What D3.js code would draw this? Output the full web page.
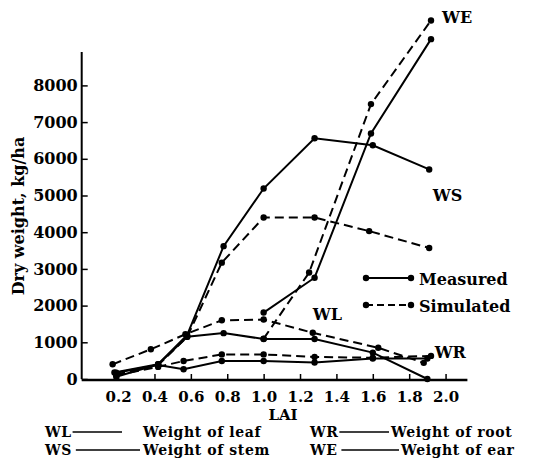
<!DOCTYPE html>
<html>
<head>
<meta charset="utf-8">
<script src="https://cdn.jsdelivr.net/npm/d3@7"></script>
<style>
  html, body { margin: 0; padding: 0; background: #fff; }
  svg { display: block; }
  text { font-family: "DejaVu Serif", "Liberation Serif", serif; font-weight: bold; fill: #000; }
</style>
</head>
<body>
<svg id="chart" width="560" height="467"></svg>
<script>
// ---- data ----
const yTicks = [0, 1000, 2000, 3000, 4000, 5000, 6000, 7000, 8000];
const xTicks = [0.2, 0.4, 0.6, 0.8, 1.0, 1.2, 1.4, 1.6, 1.8, 2.0];

const WL_meas_lai = [0.18, 0.42, 0.58, 0.78, 1.0, 1.28, 1.6, 1.9];
const WL_meas     = [180, 400, 1150, 1250, 1090, 1090, 720, 0];
const WL_sim_lai  = [0.17, 0.38, 0.57, 0.77, 1.0, 1.27, 1.63, 1.88];
const WL_sim      = [400, 810, 1220, 1600, 1620, 1260, 850, 440];

const WS_meas_lai = [0.19, 0.42, 0.58, 0.78, 1.0, 1.28, 1.6, 1.91];
const WS_meas     = [60, 400, 1200, 3620, 5190, 6560, 6370, 5710];
const WS_sim_lai  = [0.19, 0.42, 0.58, 0.77, 1.0, 1.28, 1.58, 1.91];
const WS_sim      = [120, 380, 1150, 3170, 4400, 4400, 4030, 3570];

const WR_meas_lai = [0.19, 0.42, 0.56, 0.77, 1.0, 1.28, 1.6, 1.9];
const WR_meas     = [170, 380, 264, 490, 490, 450, 560, 560];
const WR_sim_lai  = [0.19, 0.42, 0.56, 0.77, 1.0, 1.28, 1.6, 1.92];
const WR_sim      = [100, 330, 490, 670, 670, 600, 580, 630];

const WE_meas_lai = [1.0, 1.28, 1.59, 1.92];
const WE_meas     = [1810, 2760, 6690, 9260];
const WE_sim_lai  = [1.0, 1.25, 1.59, 1.92];
const WE_sim      = [1100, 2900, 7490, 9770];

const seriesLabels = ["WE", "WS", "WL", "WR"];
const legendItems = ["Measured", "Simulated"];
const keyRows = [
  ["WL", "Weight of leaf", "WR", "Weight of root"],
  ["WS", "Weight of stem", "WE", "Weight of ear"]
];

// ---- build ----
const svg = d3.select("#chart");
const x = d3.scaleLinear().domain([0, 2.12]).range([81.7, 467.4]);
const y = d3.scaleLinear().domain([0, 8000]).range([379, 85.4]);

function series(lai, vals, dashed) {
  return { pts: lai.map((l, i) => [l, vals[i]]), dashed };
}
const allSeries = [
  series(WL_meas_lai, WL_meas, false), series(WL_sim_lai, WL_sim, true),
  series(WS_meas_lai, WS_meas, false), series(WS_sim_lai, WS_sim, true),
  series(WR_meas_lai, WR_meas, false), series(WR_sim_lai, WR_sim, true),
  series(WE_meas_lai, WE_meas, false), series(WE_sim_lai, WE_sim, true)
];

const line = d3.line().x(d => x(d[0])).y(d => y(d[1]));

allSeries.forEach(s => {
  svg.append("path")
    .attr("d", line(s.pts))
    .attr("fill", "none")
    .attr("stroke", "#000")
    .attr("stroke-width", 2)
    .attr("stroke-dasharray", s.dashed ? "9,5" : null);
  svg.selectAll(null).data(s.pts).enter().append("circle")
    .attr("cx", d => x(d[0])).attr("cy", d => y(d[1]))
    .attr("r", 3.2).attr("fill", "#000");
});

// axes
const yAxis = d3.axisLeft(y).tickValues(yTicks).tickSize(-6).tickPadding(4).tickFormat(d3.format("d"));
const gy = svg.append("g").attr("transform", `translate(${x(0)},0)`).call(yAxis);
gy.select(".domain").remove();
svg.append("line").attr("x1", x(0)).attr("x2", x(0)).attr("y1", 52).attr("y2", y(0))
  .attr("stroke", "#000").attr("stroke-width", 2);
gy.selectAll(".tick line").attr("stroke-width", 1.5);
gy.selectAll(".tick text").style("font-size", "16px").style("font-family", '"DejaVu Serif", serif').style("font-weight", "bold");

const xAxis = d3.axisBottom(x).tickValues(xTicks).tickSize(-6).tickPadding(11).tickFormat(d3.format(".1f"));
const gx = svg.append("g").attr("transform", `translate(0,${y(0) + 1})`).call(xAxis);
gx.select(".domain").remove();
svg.append("line").attr("x1", x(0)).attr("x2", 467.4).attr("y1", y(0) + 1).attr("y2", y(0) + 1)
  .attr("stroke", "#000").attr("stroke-width", 2.5);
gx.selectAll(".tick line").attr("stroke-width", 1.5);
gx.selectAll(".tick text").style("font-size", "15px").style("font-family", '"DejaVu Serif", serif').style("font-weight", "bold");

// axis titles
svg.append("text").attr("transform", "translate(24,216) rotate(-90)")
  .attr("text-anchor", "middle").style("font-size", "16px").text("Dry weight, kg/ha");
svg.append("text").attr("x", 283).attr("y", 420).attr("text-anchor", "middle")
  .style("font-size", "15px").text("LAI");

// series labels
const labelPos = [[1.98, 9700], [1.93, 4850], [1.27, 1620], [1.94, 560]];
seriesLabels.forEach((t, i) => {
  svg.append("text").attr("x", x(labelPos[i][0])).attr("y", y(labelPos[i][1]))
    .style("font-size", "16px").text(t);
});

// inner legend
legendItems.forEach((t, i) => {
  const ly = 278 + i * 27;
  svg.append("line").attr("x1", 366).attr("x2", 411).attr("y1", ly).attr("y2", ly)
    .attr("stroke", "#000").attr("stroke-width", 2).attr("stroke-dasharray", i ? "7,4" : null);
  [366, 411].forEach(cx => svg.append("circle").attr("cx", cx).attr("cy", ly).attr("r", 3.2));
  svg.append("text").attr("x", 419).attr("y", ly + 7).style("font-size", "16px").text(t);
});

// bottom key
const keyLayout = [
  { y: 437, segs: [[45, 122, 143], [310, 389, 391]] },
  { y: 455, segs: [[45, 140, 143], [310, 399, 401]] }
];
keyRows.forEach((row, r) => {
  const L = keyLayout[r];
  [0, 1].forEach(k => {
    const s = L.segs[k];
    const abbr = svg.append("text").attr("x", s[0]).attr("y", L.y)
      .style("font-size", "14px").style("letter-spacing", "0.5px").text(row[k * 2]);
    const x1 = s[0] + abbr.node().getComputedTextLength() + (r === 1 ? 4 : 1);
    svg.append("line").attr("x1", x1).attr("x2", s[1]).attr("y1", L.y - 5).attr("y2", L.y - 5)
      .attr("stroke", "#000").attr("stroke-width", 1.3);
    svg.append("text").attr("x", s[2]).attr("y", L.y)
      .style("font-size", "14px").style("letter-spacing", "0.6px").text(row[k * 2 + 1]);
  });
});
</script>
</body>
</html>
